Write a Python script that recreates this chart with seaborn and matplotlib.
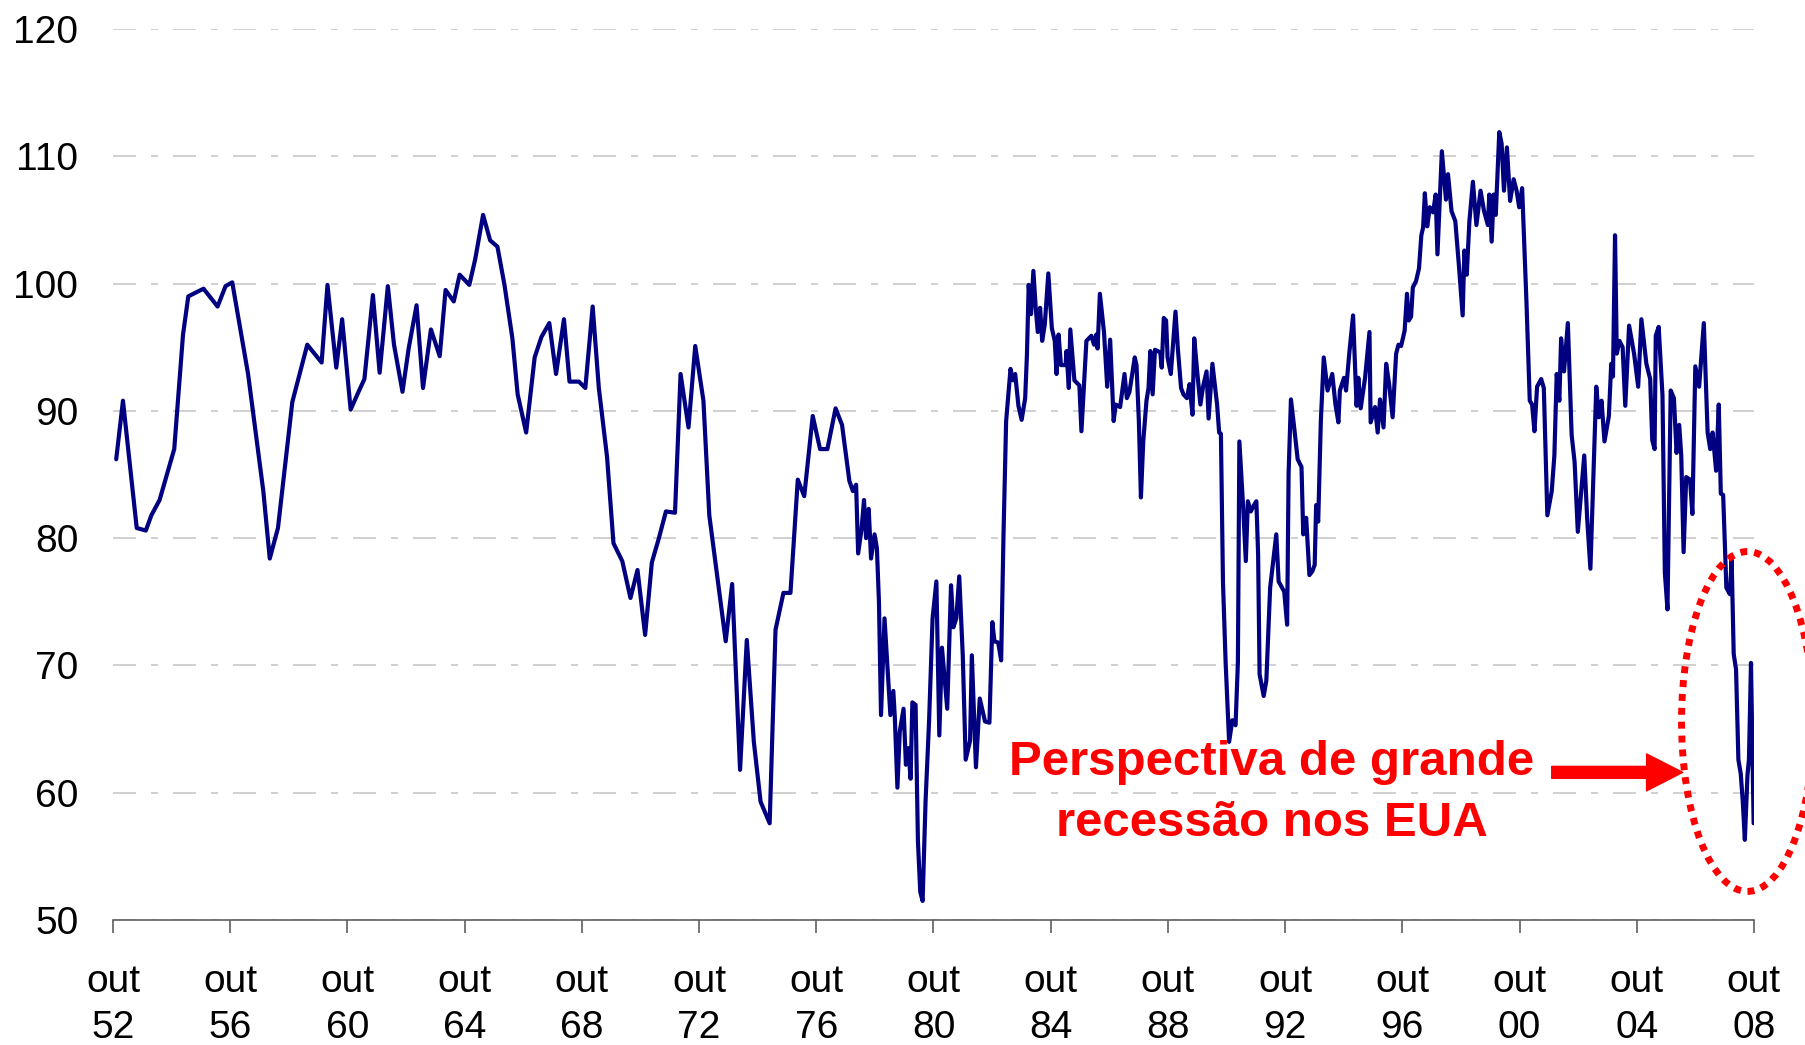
import numpy as np
import pandas as pd
import matplotlib.pyplot as plt
import seaborn as sns
from matplotlib.patches import Ellipse

# Consumer sentiment index (fractional year, value)
years = [
    1952.86, 1953.09, 1953.56, 1953.87, 1954.06, 1954.34, 1954.84, 1955.14, 1955.32, 1955.84,
    1956.32, 1956.59, 1956.82, 1957.36, 1957.88, 1958.10, 1958.38, 1958.87, 1959.38, 1959.87,
    1960.07, 1960.37, 1960.57, 1960.86, 1961.13, 1961.33, 1961.62, 1961.85, 1962.13, 1962.34,
    1962.63, 1962.84, 1963.11, 1963.33, 1963.60, 1963.90, 1964.10, 1964.38, 1964.58, 1964.91,
    1965.11, 1965.38, 1965.62, 1965.87, 1966.11, 1966.38, 1966.56, 1966.85, 1967.14, 1967.37,
    1967.64, 1967.87, 1968.14, 1968.33, 1968.65, 1968.87, 1969.12, 1969.33, 1969.61, 1969.83,
    1970.13, 1970.41, 1970.65, 1970.91, 1971.14, 1971.38, 1971.62, 1971.93, 1972.12, 1972.39,
    1972.62, 1972.90, 1973.10, 1973.66, 1973.88, 1974.15, 1974.38, 1974.62, 1974.85, 1975.16,
    1975.36, 1975.63, 1975.87, 1976.12, 1976.34, 1976.63, 1976.88, 1977.13, 1977.41, 1977.63,
    1977.88, 1978.00, 1978.11, 1978.18, 1978.30, 1978.38, 1978.45, 1978.54, 1978.62, 1978.74,
    1978.82, 1978.89, 1978.96, 1979.08, 1979.28, 1979.38, 1979.43, 1979.52, 1979.60, 1979.73,
    1979.81, 1979.89, 1979.97, 1980.03, 1980.14, 1980.22, 1980.30, 1980.38, 1980.48, 1980.60,
    1980.72, 1980.85, 1980.95, 1981.04, 1981.22, 1981.35, 1981.43, 1981.53, 1981.63, 1981.75,
    1981.85, 1982.00, 1982.06, 1982.20, 1982.33, 1982.51, 1982.66, 1982.76, 1982.83, 1982.96,
    1983.06, 1983.14, 1983.23, 1983.38, 1983.46, 1983.54, 1983.65, 1983.76, 1983.88, 1983.94,
    1984.00, 1984.08, 1984.16, 1984.24, 1984.31, 1984.39, 1984.46, 1984.55, 1984.67, 1984.79,
    1984.89, 1984.95, 1985.02, 1985.10, 1985.26, 1985.29, 1985.37, 1985.42, 1985.56, 1985.73,
    1985.80, 1985.97, 1986.14, 1986.23, 1986.31, 1986.35, 1986.43, 1986.57, 1986.68, 1986.78,
    1986.90, 1986.97, 1987.12, 1987.27, 1987.35, 1987.44, 1987.62, 1987.68, 1987.76, 1987.83,
    1987.91, 1988.02, 1988.09, 1988.15, 1988.23, 1988.31, 1988.49, 1988.54, 1988.61, 1988.69,
    1988.74, 1988.85, 1989.01, 1989.09, 1989.20, 1989.28, 1989.40, 1989.49, 1989.59, 1989.65,
    1989.75, 1989.86, 1989.95, 1990.07, 1990.14, 1990.27, 1990.43, 1990.50, 1990.56, 1990.63,
    1990.72, 1990.84, 1990.95, 1991.06, 1991.14, 1991.19, 1991.32, 1991.41, 1991.48, 1991.58,
    1991.69, 1991.77, 1991.83, 1991.88, 1992.02, 1992.11, 1992.24, 1992.45, 1992.53, 1992.72,
    1992.82, 1992.87, 1992.95, 1993.06, 1993.18, 1993.31, 1993.37, 1993.47, 1993.58, 1993.68,
    1993.76, 1993.81, 1993.88, 1993.97, 1994.07, 1994.20, 1994.36, 1994.47, 1994.57, 1994.62,
    1994.76, 1994.83, 1994.94, 1995.07, 1995.19, 1995.25, 1995.33, 1995.48, 1995.63, 1995.67,
    1995.82, 1995.91, 1995.99, 1996.11, 1996.20, 1996.30, 1996.42, 1996.54, 1996.62, 1996.71,
    1996.83, 1996.91, 1996.97, 1997.05, 1997.11, 1997.22, 1997.32, 1997.40, 1997.46, 1997.52,
    1997.60, 1997.69, 1997.80, 1997.89, 1997.95, 1998.10, 1998.24, 1998.31, 1998.43, 1998.56,
    1998.69, 1998.81, 1998.87, 1998.95, 1999.04, 1999.16, 1999.28, 1999.42, 1999.54, 1999.67,
    1999.72, 1999.80, 1999.87, 1999.94, 2000.06, 2000.14, 2000.22, 2000.32, 2000.43, 2000.55,
    2000.65, 2000.74, 2000.84, 2000.99, 2001.10, 2001.18, 2001.26, 2001.35, 2001.49, 2001.58,
    2001.70, 2001.85, 2001.94, 2002.02, 2002.11, 2002.17, 2002.27, 2002.40, 2002.53, 2002.63,
    2002.74, 2002.96, 2003.06, 2003.17, 2003.37, 2003.46, 2003.55, 2003.65, 2003.80, 2003.88,
    2003.94, 2004.01, 2004.07, 2004.16, 2004.27, 2004.36, 2004.49, 2004.66, 2004.80, 2004.91,
    2005.08, 2005.21, 2005.28, 2005.36, 2005.40, 2005.50, 2005.63, 2005.71, 2005.80, 2005.91,
    2006.02, 2006.11, 2006.20, 2006.27, 2006.35, 2006.44, 2006.57, 2006.65, 2006.75, 2006.88,
    2007.04, 2007.17, 2007.26, 2007.34, 2007.46, 2007.55, 2007.62, 2007.70, 2007.81, 2007.93,
    2007.99, 2008.06, 2008.14, 2008.22, 2008.30, 2008.37, 2008.44, 2008.53, 2008.58, 2008.65,
    2008.74,
]
index_values = [
    86.2, 90.8, 80.8, 80.6, 81.8, 83.0, 87.0, 96.0, 99.0, 99.6,
    98.2, 99.8, 100.1, 92.9, 83.7, 78.4, 80.8, 90.7, 95.2, 93.8,
    99.9, 93.4, 97.2, 90.1, 91.5, 92.5, 99.1, 93.0, 99.8, 95.2,
    91.5, 94.9, 98.3, 91.8, 96.4, 94.3, 99.5, 98.6, 100.7, 99.9,
    101.9, 105.4, 103.4, 102.9, 99.9, 95.7, 91.3, 88.3, 94.2, 95.8,
    96.9, 92.9, 97.2, 92.3, 92.3, 91.8, 98.2, 91.8, 86.4, 79.6,
    78.2, 75.3, 77.5, 72.4, 78.1, 80.0, 82.1, 82.0, 92.9, 88.7,
    95.1, 90.8, 81.8, 71.9, 76.4, 61.8, 72.0, 64.0, 59.3, 57.6,
    72.8, 75.7, 75.7, 84.6, 83.3, 89.6, 87.0, 87.0, 90.2, 88.9,
    84.5, 83.7, 84.2, 78.8, 80.8, 83.0, 80.0, 82.3, 78.4, 80.3,
    79.2, 75.0, 66.1, 73.7, 66.1, 68.0, 66.0, 60.4, 64.8, 66.6,
    62.2, 63.5, 61.1, 67.1, 66.9, 56.2, 52.2, 51.5, 59.3, 65.6,
    73.7, 76.6, 64.5, 71.4, 66.6, 76.3, 73.0, 73.7, 77.0, 70.8,
    62.6, 64.1, 70.8, 62.0, 67.4, 65.6, 65.5, 73.4, 71.9, 71.8,
    70.4, 80.2, 89.2, 93.3, 92.4, 92.9, 90.4, 89.3, 91.0, 94.4,
    99.9, 97.6, 101.0, 98.1, 96.2, 98.1, 95.5, 96.8, 100.8, 96.5,
    95.5, 92.9, 96.0, 93.6, 93.6, 94.7, 91.8, 96.4, 92.4, 92.0,
    88.4, 95.5, 95.9, 95.2, 96.0, 94.9, 99.2, 96.2, 91.9, 95.6,
    89.2, 90.5, 90.3, 92.9, 91.0, 91.5, 94.2, 93.6, 89.2, 83.2,
    87.6, 90.8, 91.8, 94.7, 91.3, 94.8, 94.6, 93.4, 97.3, 97.1,
    94.2, 92.9, 97.8, 94.9, 91.8, 91.3, 91.0, 92.1, 89.7, 95.7,
    93.1, 90.5, 91.9, 93.1, 89.4, 93.7, 90.5, 88.3, 88.2, 76.6,
    70.3, 64.0, 65.7, 65.3, 70.3, 87.6, 82.4, 78.2, 82.9, 82.1,
    82.6, 82.9, 78.7, 69.3, 67.6, 68.8, 76.1, 80.3, 76.6, 75.8,
    73.2, 85.1, 90.9, 88.7, 86.2, 85.6, 80.3, 81.6, 77.1, 77.4,
    77.9, 82.6, 81.3, 89.2, 94.2, 91.6, 92.9, 90.5, 89.1, 91.6,
    92.6, 91.6, 94.5, 97.5, 90.4, 92.6, 90.2, 92.6, 96.2, 89.1,
    90.3, 88.3, 90.9, 88.7, 93.7, 92.1, 89.5, 94.5, 95.2, 95.1,
    96.3, 99.2, 97.1, 97.4, 99.7, 100.2, 101.2, 103.8, 104.4, 107.1,
    104.5, 106.0, 105.6, 107.0, 102.3, 110.4, 106.6, 108.6, 105.7, 104.9,
    101.2, 97.5, 102.6, 100.7, 104.9, 108.0, 104.6, 107.3, 105.7, 104.6,
    107.0, 103.3, 107.0, 105.4, 111.9, 111.0, 107.3, 110.7, 106.5, 108.2,
    107.3, 106.0, 107.5, 98.4, 90.8, 90.5, 88.4, 91.9, 92.5, 91.8,
    81.8, 83.7, 86.5, 92.9, 90.8, 95.7, 93.1, 96.9, 88.1, 86.0,
    80.5, 86.5, 81.5, 77.6, 91.9, 89.5, 90.8, 87.6, 89.6, 93.7,
    92.7, 103.8, 94.5, 95.5, 95.0, 90.4, 96.7, 94.5, 91.9, 97.2,
    93.7, 92.5, 87.7, 87.0, 95.9, 96.6, 91.2, 77.3, 74.4, 91.6,
    91.0, 86.7, 88.9, 86.5, 78.9, 84.8, 84.6, 81.9, 93.5, 91.9,
    96.9, 88.3, 87.0, 88.3, 85.3, 90.5, 83.5, 83.4, 76.1, 75.6,
    78.3, 70.9, 69.7, 62.6, 61.5, 59.3, 56.3, 61.4, 62.6, 70.2,
    57.6,
]

tick_years = list(range(1952, 2009, 4))
tick_labels = [f"out\n{y % 100:02d}" for y in tick_years]
y_ticks = [50, 60, 70, 80, 90, 100, 110, 120]
note_text = "Perspectiva de grande\nrecessão nos EUA"

sns.set_style("white")
plt.rcParams['font.family'] = ['Liberation Sans', 'DejaVu Sans']

df = pd.DataFrame({'ano': years, 'indice': index_values})

fig = plt.figure(figsize=(18.05, 10.45), dpi=100)
ax = fig.add_axes([0.0626, 0.1196, 0.9091, 0.8526])

sns.lineplot(data=df, x='ano', y='indice', color='#000080', linewidth=3.0,
             sort=False, ax=ax, zorder=3)

ax.set_xlim(1952.75, 2008.75)
ax.set_ylim(50, 120)
ax.set_xticks([y + 0.75 for y in tick_years])
ax.set_xticklabels(tick_labels, linespacing=1.35)
ax.set_yticks(y_ticks)
ax.set_xlabel('')
ax.set_ylabel('')

ax.yaxis.grid(True, color='#c8c8c8', linewidth=1.2, linestyle=(0, (13.8, 9, 4.2, 9)))
ax.xaxis.grid(False)
for side in ['left', 'top', 'right']:
    ax.spines[side].set_visible(False)
ax.spines['bottom'].set_color('#606060')
ax.spines['bottom'].set_linewidth(1.2)
ax.tick_params(axis='x', bottom=True, direction='out', length=9, width=1.2,
               color='#606060', pad=23, labelsize=28, labelcolor='black')
ax.tick_params(axis='y', left=False, length=0, pad=25, labelsize=28, labelcolor='black')

# annotation: text, arrow and dotted ellipse around the 2008 drop
ax.text(1992.3, 60.0, note_text, ha='center', va='center', color='red',
        fontsize=35.5, fontweight='bold', linespacing=1.45, zorder=4)
ax.annotate('', xy=(2006.32, 61.6), xytext=(2001.85, 61.6),
            arrowprops=dict(arrowstyle='simple,head_width=1.33,head_length=1.3,tail_width=0.43',
                            color='red', mutation_scale=20, shrinkA=0, shrinkB=0),
            zorder=4)
ax.add_patch(Ellipse((2008.53, 65.6), 4.5, 26.7, fill=False, edgecolor='red',
                     linewidth=5, linestyle=(0, (1, 1)), clip_on=False, zorder=5))

fig.savefig('out.png', dpi=100)
